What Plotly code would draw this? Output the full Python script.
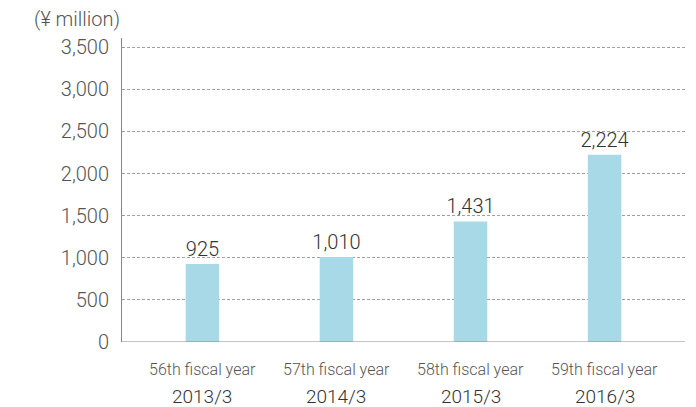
import plotly.graph_objects as go

# Ordinary income by fiscal year (¥ million)
terms = ["56th fiscal year", "57th fiscal year", "58th fiscal year", "59th fiscal year"]
periods = ["2013/3", "2014/3", "2015/3", "2016/3"]
values = [925, 1010, 1431, 2224]
y_ticks = [0, 500, 1000, 1500, 2000, 2500, 3000, 3500]

FONT = "Roboto"
positions = list(range(len(values)))

fig = go.Figure()
fig.add_trace(go.Bar(
    x=positions,
    y=values,
    width=0.25,
    marker=dict(color="#a8d9e6", line=dict(width=0)),
    text=[f"{v:,}" for v in values],
    textposition="outside",
    constraintext="none",
    textfont=dict(family=FONT, size=20, color="#333333", weight=300),
    cliponaxis=False,
    hoverinfo="skip",
))

# two-line category labels under each bar
annotations = []
for pos, term, period in zip(positions, terms, periods):
    annotations.append(dict(
        text=term, x=pos, xref="x", y=0, yref="paper",
        yanchor="middle", yshift=-27, showarrow=False,
        font=dict(family=FONT, size=16, color="#555555", weight=300),
    ))
    annotations.append(dict(
        text=period, x=pos, xref="x", y=0, yref="paper",
        yanchor="middle", yshift=-54, showarrow=False,
        font=dict(family=FONT, size=19, color="#333333", weight=300),
    ))

annotations.append(dict(
    text="(¥ million)",
    xref="paper", yref="paper",
    x=0, y=1,
    xanchor="right", yanchor="middle",
    yshift=19, showarrow=False,
    font=dict(family=FONT, size=20, color="#555555", weight=300),
))

fig.update_layout(
    width=696,
    height=407,
    margin=dict(l=122, r=11, t=38, b=65),
    paper_bgcolor="white",
    plot_bgcolor="white",
    showlegend=False,
    font=dict(family=FONT, color="#555555", weight=300),
    xaxis=dict(
        range=[-0.6, 3.6],
        showticklabels=False,
        showgrid=False,
        zeroline=False,
        showline=False,
        ticks="",
        fixedrange=True,
    ),
    yaxis=dict(
        range=[0, 3610],
        tickmode="array",
        tickvals=y_ticks,
        ticktext=[f"{v:,}" for v in y_ticks],
        tickfont=dict(size=20, color="#555555", weight=300),
        showgrid=True,
        gridcolor="#a0a0a0",
        griddash="3px,2px",
        gridwidth=1,
        zeroline=False,
        showline=True,
        linecolor="#888888",
        linewidth=1,
        ticks="",
        ticklabelstandoff=8,
        fixedrange=True,
    ),
    annotations=annotations,
    shapes=[dict(
        type="line", xref="paper", yref="y",
        x0=0, x1=1, y0=0, y1=0,
        line=dict(color="#888888", width=1),
    )],
)

fig.write_html("out.html")
